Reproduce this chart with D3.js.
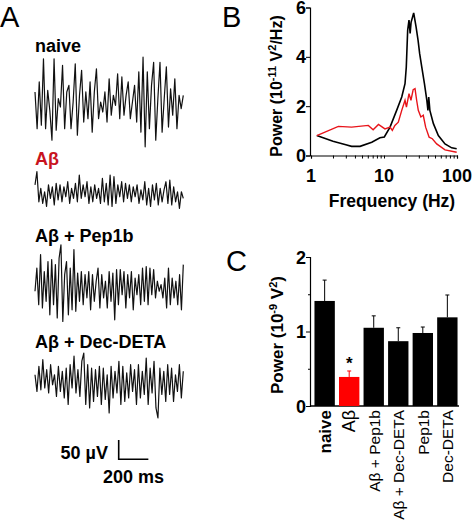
<!DOCTYPE html>
<html><head><meta charset="utf-8">
<script src="https://cdn.jsdelivr.net/npm/d3@7"></script>
<style>body{margin:0;background:#fff}svg{display:block}text{font-family:"Liberation Sans",Arial,sans-serif}</style>
</head><body><svg id="c" width="474" height="525"></svg>
<script>
// ---------- Panel A: traces (µV, evenly spaced over 1000 ms) ----------
const traceLabels = ["naive", "Aβ", "Aβ + Pep1b", "Aβ + Dec-DETA"];
const naiveTrace = [26,-69,52,-60,112,-69,30,-22,-99,112,-73,9,-13,95,-69,26,43,-69,0,99,-86,17,82,-52,26,-43,52,-78,26,86,-43,0,-26,26,-52,60,-34,17,-9,73,-43,65,-34,17,52,-43,0,43,-52,78,-78,116,-116,78,-69,43,103,-99,9,103,-78,9,91,-65,34,-34,60,-69,17,-17,17];
const abTrace = [22,56,-22,13,-26,4,-34,22,-13,17,-30,26,-17,22,-22,17,-9,30,-26,13,-13,26,-22,47,-13,22,-9,30,-26,17,-22,22,-13,13,-26,39,-22,26,-30,47,-34,43,-26,22,-9,30,-22,26,-13,22,-22,17,-9,22,-26,9,-17,30,-30,13,-34,22,-17,26,-30,13,-22,9,30,-26,34,-30,17,-22,4,-39,4,-13];
const pepTrace = [-17,43,-52,78,-60,34,-43,60,-78,65,-52,52,-86,69,103,-95,26,60,-78,43,-65,91,-69,30,-43,34,-52,26,-34,34,-65,26,-43,9,43,-60,26,-34,9,-60,34,-43,30,-91,39,-52,39,-26,34,-60,26,-34,34,-65,17,-26,26,-52,43,-43,47,-52,43,-26,39,-34,9,-17,0,-34,17,-60,43,-52,17,-34,9,-52,26,-65,52];
const decTrace = [17,-26,39,-22,56,-17,30,-30,43,-9,17,-39,39,-26,26,-43,34,-60,43,-17,65,-30,30,-39,52,73,-60,43,-69,34,-52,30,-39,39,-60,34,-47,17,-82,39,-43,26,-30,52,-60,39,-52,22,-43,43,-26,30,-60,43,-43,26,-34,60,-60,34,-30,52,-69,-95,34,-34,26,-52,43,-34,34,-52,17,-26,43,-43,26];
const traceBase = [102, 193.3, 284.7, 381.3];
const scaleBarUV = 50, scaleBarMS = 200;

// ---------- Panel B: power spectra ----------
const naiveFreq = [1.2,2,3,3.6,4.7,6.8,8.8,10.1,12.1,14.9,17.5,19.4,20.2,21.1,22,22.8,23.5,25.5,27.5,29.3,30.8,32.9,35.8,38.6,40,41,42.5,47.5,55.5,68.5,84.6,99];
const naivePower = [0.81,0.58,0.44,0.37,0.37,0.54,0.72,0.75,1.15,1.83,2.37,2.91,3.59,5.08,5.49,4.95,5.4,5.78,5.21,4.67,4.13,3.59,2.91,2.24,1.83,2.37,1.83,1.29,0.81,0.47,0.31,0.27];
const abFreq = [1.2,2.37,3.6,6.1,7.1,8.4,10.3,12.1,13,14.1,15.7,17.5,19.4,20.3,22,23.4,25.1,26.6,28,29.5,32,34.5,37.2,41.5,45.9,52.7,68.5,99];
const abPower = [0.81,1.18,1.15,1.22,1.04,1.26,1.08,1.15,1.02,1.22,1.35,1.83,2.24,1.96,2.51,2.24,2.67,2.71,2.24,1.83,1.56,1.63,1.15,0.74,0.68,0.47,0.23,0.13];
const specYTicks = [0,2,4,6];
const specXTicks = [1,10,100];

// ---------- Panel C: bar chart ----------
const groups = ["naive","Aβ","Aβ + Pep1b","Aβ + Dec-DETA","Pep1b","Dec-DETA"];
const groupPower = [1.41,0.39,1.05,0.87,0.98,1.19];
const groupSem = [0.28,0.08,0.16,0.18,0.08,0.30];
const barYTicks = [0,1,2];

const svg = d3.select("#c");

// Panel letters
[["A",0,27],["B",222,27],["C",226,271]].forEach(([t,x,y])=>{
  svg.append("text").attr("x",x).attr("y",y).attr("font-size",29).text(t);
});

// ---- Panel A ----
const tx = d3.scaleLinear().domain([0,1000]).range([35,183.3]);
const uvPx = 19.3/50;
const traces = [naiveTrace, abTrace, pepTrace, decTrace];
const labelY = [51.7,165,241.7,348];
traceLabels.forEach((lab,i)=>{
  svg.append("text").attr("x",35).attr("y",labelY[i]).attr("font-size",18).attr("font-weight","bold")
    .attr("fill", i===1 ? "#c8141e" : "#000").text(lab);
});
traces.forEach((tr,i)=>{
  const ty = d3.scaleLinear().domain([-100,100]).range([traceBase[i]+100*uvPx, traceBase[i]-100*uvPx]);
  const line = d3.line().x((d,j)=>tx(j*1000/(tr.length-1))).y(d=>ty(d));
  svg.append("path").attr("d",line(tr)).attr("fill","none").attr("stroke","#111").attr("stroke-width",1.2).attr("stroke-linejoin","round");
});
// scale bar
const sbx = 118.7, sby = 459.3;
const sbLen = tx(scaleBarMS)-tx(0);
svg.append("path").attr("d",`M${sbx},${sby-scaleBarUV*uvPx}V${sby}H${sbx+sbLen}`).attr("fill","none").attr("stroke","#000").attr("stroke-width",1.6);
svg.append("text").attr("x",108).attr("y",sby).attr("text-anchor","end").attr("font-size",18).attr("font-weight","bold").text(scaleBarUV+" µV");
svg.append("text").attr("x",164).attr("y",483).attr("text-anchor","end").attr("font-size",18).attr("font-weight","bold").text(scaleBarMS+" ms");

// ---- Panel B ----
const bx = d3.scaleLog().domain([1,100]).range([311,457]);
const by = d3.scaleLinear().domain([0,6]).range([155.5,7.5]);
const gxB = svg.append("g").attr("transform","translate(0,155.5)")
  .call(d3.axisBottom(bx).tickValues(d3.range(1,10).concat(d3.range(10,101,10))).tickSize(3).tickFormat(""));
const gyB = svg.append("g").attr("transform","translate(310,0)")
  .call(d3.axisLeft(by).tickValues(specYTicks).tickSize(4).tickFormat(""));
[gxB,gyB].forEach(g=>{g.select(".domain").attr("stroke","#000").attr("stroke-width",1.2);g.selectAll(".tick line").attr("stroke","#000");});
specXTicks.forEach(v=>svg.append("text").attr("x",bx(v)).attr("y",182).attr("text-anchor","middle").attr("font-size",18).attr("font-weight","bold").text(v));
specYTicks.forEach(v=>svg.append("text").attr("x",306).attr("y",by(v)+6.5).attr("text-anchor","end").attr("font-size",18).attr("font-weight","bold").text(v));
svg.append("text").attr("x",392).attr("y",207).attr("text-anchor","middle").attr("font-size",17.5).attr("font-weight","bold").text("Frequency (Hz)");
const yl = svg.append("text").attr("transform","translate(282,86) rotate(-90)").attr("text-anchor","middle").attr("font-size",16).attr("font-weight","bold");
yl.append("tspan").text("Power (10");
yl.append("tspan").attr("dy",-6).attr("font-size",11).text("-11");
yl.append("tspan").attr("dy",6).text(" V");
yl.append("tspan").attr("dy",-6).attr("font-size",11).text("2");
yl.append("tspan").attr("dy",6).text("/Hz)");
const specLine = d3.line().x(d=>bx(d[0])).y(d=>by(d[1]));
svg.append("path").attr("d",specLine(naiveFreq.map((f,i)=>[f,naivePower[i]]))).attr("fill","none").attr("stroke","#000").attr("stroke-width",1.6);
svg.append("path").attr("d",specLine(abFreq.map((f,i)=>[f,abPower[i]]))).attr("fill","none").attr("stroke","#e8141a").attr("stroke-width",1.4);

// ---- Panel C ----
const cx = d3.scaleBand().domain(groups).range([312.5,459.5]).paddingInner(0.17).paddingOuter(0.08);
const cy = d3.scaleLinear().domain([0,2]).range([406,257]);
const gyC = svg.append("g").attr("transform","translate(310,0)")
  .call(d3.axisLeft(cy).tickValues([0,0.5,1,1.5,2]).tickSize(4).tickFormat(""));
gyC.selectAll(".tick line").attr("stroke","#000").attr("x2",d=>Number.isInteger(d)?-4:-2);
gyC.select(".domain").attr("stroke","#000").attr("stroke-width",1.2);
svg.append("line").attr("x1",310).attr("x2",459).attr("y1",cy(0)).attr("y2",cy(0)).attr("stroke","#000").attr("stroke-width",1.4);
barYTicks.forEach(v=>svg.append("text").attr("x",306).attr("y",cy(v)+6.5).attr("text-anchor","end").attr("font-size",18).attr("font-weight","bold").text(v));
const yl2 = svg.append("text").attr("transform","translate(283,335) rotate(-90)").attr("text-anchor","middle").attr("font-size",17).attr("font-weight","bold");
yl2.append("tspan").text("Power (10");
yl2.append("tspan").attr("dy",-6).attr("font-size",11).text("-9");
yl2.append("tspan").attr("dy",6).text(" V");
yl2.append("tspan").attr("dy",-6).attr("font-size",11).text("2");
yl2.append("tspan").attr("dy",6).text(")");
groups.forEach((g,i)=>{
  const col = i===1 ? "#ff0000" : "#000";
  const x0 = cx(g), w = cx.bandwidth(), xm = x0+w/2;
  svg.append("rect").attr("x",x0).attr("y",cy(groupPower[i])).attr("width",w).attr("height",cy(0)-cy(groupPower[i])).attr("fill",col);
  const top = cy(groupPower[i]+groupSem[i]);
  svg.append("line").attr("x1",xm).attr("x2",xm).attr("y1",cy(groupPower[i])).attr("y2",top).attr("stroke",col).attr("stroke-width",1);
  svg.append("line").attr("x1",xm-2).attr("x2",xm+2).attr("y1",top).attr("y2",top).attr("stroke",col).attr("stroke-width",1);
  svg.append("text").attr("transform",`translate(${xm+6},410) rotate(-90)`).attr("text-anchor","end")
    .attr("font-size", i===0 ? 17 : (i===1 ? 18 : 15.5)).attr("font-weight", i===0 ? "bold" : "normal").text(g);
});
svg.append("text").attr("x",cx("Aβ")+cx.bandwidth()/2).attr("y",cy(groupPower[1]+groupSem[1])-2).attr("text-anchor","middle").attr("font-size",17).attr("font-weight","bold").text("*");
</script></body></html>
